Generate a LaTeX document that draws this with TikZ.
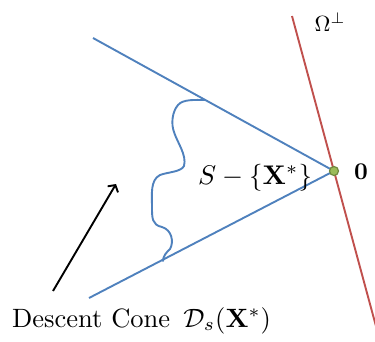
\documentclass[tikz,border=0pt]{standalone}
\usepackage{graphicx}
\usepackage{amsmath,amssymb}
\usetikzlibrary{arrows.meta}
\definecolor{coneblue}{HTML}{4F81BD}
\definecolor{perpred}{HTML}{C0504D}
\definecolor{dotgreen}{HTML}{9BBB59}
\definecolor{dotdark}{HTML}{71893F}
\begin{document}
\begin{tikzpicture}[x=1pt,y=-1pt,
  cone/.style={draw=coneblue,line width=1.9pt},
  perp/.style={draw=perpred,line width=1.9pt},
  lbl/.style={inner sep=0pt}]
\useasboundingbox (0,0) rectangle (375,341);
\coordinate (top) at (93,38);
\coordinate (bot) at (89,298);
\coordinate (apex) at (334,171);
\coordinate (rtop) at (292,16);
\coordinate (rbot) at (380,341);
\draw[perp] (rtop) -- (rbot);
\draw[cone] (top) -- (apex) -- (bot);
\draw[cone,line cap=round] (205,100) .. controls (195,100) and (183,99) .. (178,105)
  .. controls (172,112) and (171,124) .. (174,132)
  .. controls (177,142) and (187,155) .. (184,166)
  .. controls (181,172) and (168,172) .. (160,175)
  .. controls (150,180) and (152,195) .. (152,207)
  .. controls (152,218) and (152,225) .. (162,227)
  .. controls (172,230) and (174,242) .. (170,249)
  .. controls (166,253) and (163,256) .. (163,261);
\node[circle,fill=dotgreen,draw=dotdark,line width=1.2pt,minimum size=9pt,inner sep=0pt] (o) at (apex) {};
\node[lbl,anchor=west] (zero) at (354,172) {\scalebox{2.4}{$\mathbf{0}$}};
\node[lbl] (omega) at (330,22) {\scalebox{2.2}{$\Omega^{\perp}$}};
\node[lbl] (s) at (255,178) {\scalebox{2.7}{$S-\{\mathbf{X}^{*}\}$}};
\node[lbl,anchor=base west] (dc) at (12,327) {\scalebox{2.65}{Descent Cone\ \,$\mathcal{D}_{s}(\mathbf{X}^{*})$}};
\coordinate (atail) at (53,291);
\coordinate (ahead) at (116,184);
\draw[line width=1.9pt,-{Straight Barb[length=5pt,width=12pt,line width=1.9pt]}] (atail) -- (ahead);
\end{tikzpicture}
\end{document}
